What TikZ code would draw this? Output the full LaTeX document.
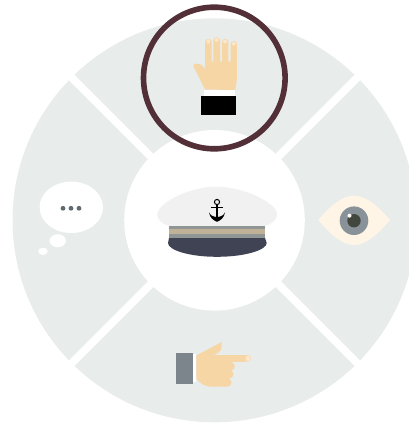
\documentclass[tikz,border=0pt]{standalone}
\definecolor{wedgegrey}{HTML}{E8ECEB}
\definecolor{ringred}{HTML}{532F38}
\definecolor{skin}{HTML}{F7D6A6}
\definecolor{nail}{HTML}{FDE7CC}
\definecolor{eyecream}{HTML}{FFF5E6}
\definecolor{irisgrey}{HTML}{8A9299}
\definecolor{pupilgrey}{HTML}{41463F}
\definecolor{dotgrey}{HTML}{5F6B70}
\definecolor{sleevegrey}{HTML}{7C848C}
\definecolor{capwhite}{HTML}{F1F1F1}
\definecolor{bandgrey}{HTML}{8F9694}
\definecolor{bandtan}{HTML}{BFB299}
\definecolor{visor}{HTML}{3F4354}
\begin{document}
\begin{tikzpicture}[x=1pt,y=-1pt,line join=round]
\useasboundingbox(0,0)rectangle(409,423);
\clip(0,0)rectangle(409,423);
% wheel
\coordinate(c) at(214.5,220.3);
\fill[wedgegrey](c)circle[radius=202];
\foreach\a in{45,135}{\draw[white,line width=7.8pt](c)--++(\a:215)(c)--++(\a+180:215);}
\fill[white](c)circle[radius=90.3];
% raised hand
\fill[skin](205,89.5)--(193.3,66)..controls(193,64)and(195,63.5)..(197,63.7)..controls(201,64)and(204,66)..(205.2,70)--(205,42)
 ..controls(205,38)and(211.7,38)..(211.7,42)--(211.7,61.5)--(213.3,61.5)--(213.3,40.5)..controls(213.3,36.3)and(220,36.3)..(220,40.5)--(220,61.5)
 --(222,61.5)--(222,42)..controls(222,38)and(228.3,38)..(228.3,42)--(228.3,61.5)--(230.7,61.5)--(230.7,44)..controls(230.7,40)and(236.9,40)..(236.9,44)
 --(236.9,76)..controls(236.9,81)and(236,86)..(235.3,90)--cycle;
\fill[nail](208.3,41.5)circle[radius=2](216.7,39.8)circle[radius=2](225.1,41.5)circle[radius=2](233.8,43.7)circle[radius=2];
\fill[white](204,90)rectangle(235.3,96);
\fill[black](201,96)rectangle(236,115);
% cap
\fill[capwhite](169,226)..controls(160,223)and(157.3,219)..(157.3,214)..controls(157.3,204)and(188,186.7)..(216,186.7)
 ..controls(246,186.7)and(277,204)..(277,214)..controls(277,219)and(274,223)..(265,226)--cycle;
\fill[bandgrey](169,226)rectangle(265,238);
\fill[bandtan](169,229.3)rectangle(265,233.7);
\fill[visor](169,238)--(265,238)..controls(266,240)and(266.7,241)..(266.7,243)..controls(266.7,250)and(245,256.8)..(217,256.8)
 ..controls(189,256.8)and(168,250)..(168,243)..controls(168,241)and(168.5,240)..(169,238)--cycle;
% anchor
\draw[black,line width=1pt](217,202)circle[radius=2.6];
\draw[black,line width=1.6pt](217,204.5)--(217,220);
\draw[black,line width=1pt](211,207)--(223,207);
\fill[black](209,212.3)..controls(210,218)and(213,220)..(217,221.8)..controls(221,220)and(224,218)..(225,212.3)
 ..controls(223.5,215.5)and(221,216.8)..(217,217)..controls(213,216.8)and(210.5,215.5)..(209,212.3)--cycle;
% eye
\fill[eyecream](318.3,220)..controls(330,206)and(342,195.7)..(354,195.7)..controls(366,195.7)and(378,206)..(390,220)
 ..controls(378,234)and(366,245)..(354,245)..controls(342,245)and(330,234)..(318.3,220)--cycle;
\fill[irisgrey](354,220.7)circle[radius=14.3];
\fill[pupilgrey](354,220.7)circle[radius=6.7];
\fill[white](349.5,215.7)circle[radius=2];
% thought bubble
\fill[white](71.3,207.3)ellipse[x radius=31.7,y radius=25.7];
\fill[white](57.7,240.7)ellipse[x radius=8.2,y radius=6.5];
\fill[white](43,251.3)ellipse[x radius=4.7,y radius=3.7];
\foreach\x in{63,71,79}{\fill[dotgrey](\x,208.3)circle[radius=2.4];}
% pointing hand
\fill[sleevegrey](176,353)rectangle(193,384);
\fill[white](193,354)rectangle(196.3,381.7);
\fill[skin](196.3,355.5)--(221.7,342)--(221.7,347)..controls(221.7,351)and(217,354)..(213.3,355)--(248,355.2)
 ..controls(252,355.5)and(252,361.5)..(248,361.7)--(231,361.9)..controls(236,363)and(236,370)..(231,370.5)
 ..controls(234.5,372)and(234.5,378)..(229,378.7)..controls(232.5,380)and(232.5,386.5)..(227,386.7)--(211,386.7)
 ..controls(204,386.7)and(199,382)..(196.3,378.5)--cycle;
\fill[nail](248,358.4)circle[radius=2.6];
% highlight ring
\draw[ringred,line width=5.6pt](214.3,78)circle[radius=70.8];
\end{tikzpicture}
\end{document}
